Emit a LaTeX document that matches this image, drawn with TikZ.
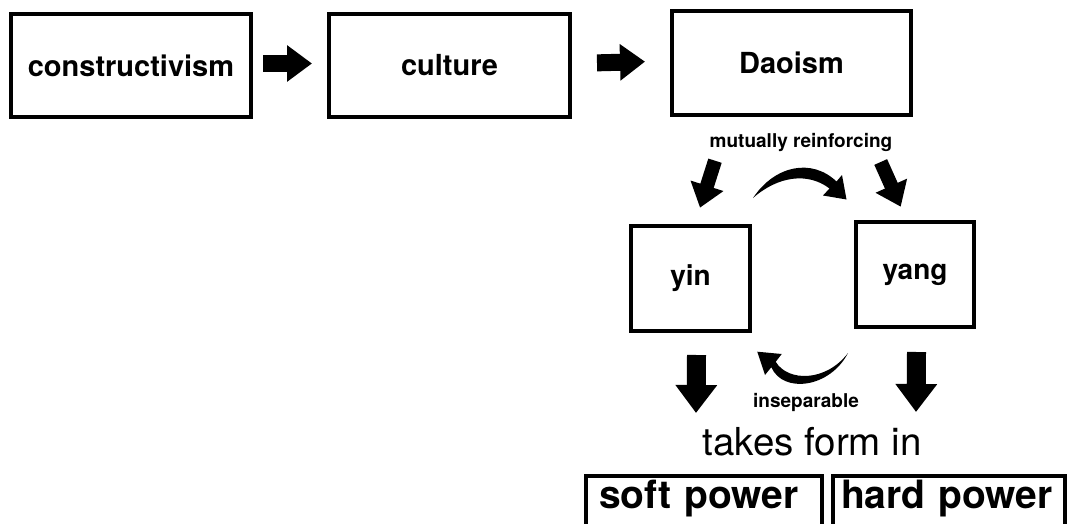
\documentclass[tikz,border=0pt]{standalone}
\usepackage{fontspec}
\setmainfont{TeX Gyre Heros}
\usetikzlibrary{arrows.meta}
\tikzstyle{stage} = [draw, line width=4pt, inner sep=0pt, font=\bfseries\fontsize{29}{35}\selectfont]
\tikzstyle{pole} = [draw, line width=4pt, inner sep=0pt, font=\bfseries\fontsize{28}{34}\selectfont]
\tikzstyle{powerbox} = [draw, line width=4pt, anchor=base west, align=left, inner ysep=0pt, text height=32pt, text depth=40pt, font=\bfseries\fontsize{39}{47}\selectfont]
\tikzstyle{lbl} = [font=\bfseries\fontsize{19}{23}\selectfont]
\tikzstyle{rarrow} = [line width=17pt, -{Triangle[length=25pt,width=35pt]}]
\tikzstyle{darrow} = [line width=14pt, -{Triangle[length=23pt,width=33pt]}]
\tikzstyle{varrow} = [line width=19pt, -{Triangle[length=28pt,width=40pt]}]

\begin{document}
\begin{tikzpicture}[x=1pt,y=-1pt]
			\useasboundingbox (0,0) rectangle (1067,524);
			\clip (0,0) rectangle (1067,524);
			\node[stage, minimum width=240pt, minimum height=103pt] (con) at (131,65.5) {constructivism};
			\node[stage, minimum width=241pt, minimum height=103pt] (cul) at (449.5,65.5) {culture};
			\node[stage, minimum width=239pt, minimum height=104pt] (dao) at (791.5,63) {Daoism};
			\draw[rarrow, shorten <=10pt, shorten >=15pt] ([yshift=2pt]con.east) -- ([yshift=2pt]cul.west);
			\draw[rarrow, shorten <=25pt, shorten >=25pt] ([yshift=2pt]cul.east) -- ([yshift=2pt]dao.west);
			\node[lbl] (mutual) at (801,143) {mutually reinforcing};
			\node[pole, minimum width=119pt, minimum height=105pt] (yin) at (690.5,278.5) {yin};
			\node[pole, minimum width=118pt, minimum height=105pt] (yang) at (915,274.5) {yang};
			\coordinate (yinfrom) at (715,160.7);
			\coordinate (yinto) at (700,207.7);
			\coordinate (yangfrom) at (880.7,162);
			\coordinate (yangto) at (900.7,206.7);
			\draw[darrow] (yinfrom) -- (yinto);
			\draw[darrow] (yangfrom) -- (yangto);
			\fill (753,198) .. controls (775,165) and (812,158) .. (836.5,181.5) -- (842,175) -- (846.5,199.5) -- (823,195.5) -- (829.5,188.5) .. controls (808,172) and (778,176) .. cycle;
			\fill (848,353) .. controls (830,388) and (783,394) .. (771.3,367.2) -- (765,375) -- (757.3,351.7) -- (781.7,354) -- (775.7,361.8) .. controls (788,382) and (826,382) .. cycle;
			\node[lbl] (insep) at (806,402) {inseparable};
			\coordinate (softfrom) at (696.5,355);
			\coordinate (softto) at (696,413);
			\coordinate (hardfrom) at (916.5,352);
			\coordinate (hardto) at (916,412);
			\draw[varrow] (softfrom) -- (softto);
			\draw[varrow] (hardfrom) -- (hardto);
			\node[anchor=base, font=\fontsize{38.5}{46}\selectfont] (form) at (812,455) {takes form in};
			\node[powerbox, inner xsep=13pt, text width=210pt] (soft) at (584,508) {soft power};
			\node[powerbox, inner xsep=8pt, text width=216pt] (hard) at (831,508) {hard power};
		\end{tikzpicture}
\end{document}
